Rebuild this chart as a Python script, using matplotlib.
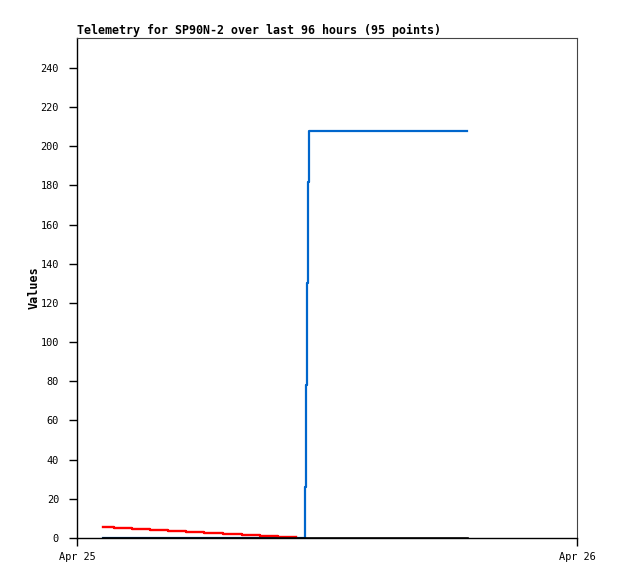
"""Telemetry step chart for SP90N-2 (hours since Apr 25 00:00 on x)."""
import matplotlib
matplotlib.use("Agg")
import matplotlib.pyplot as plt

INK = "#000000"
BLUE = "#0066cc"
RED = "#ff0000"
FONT = "DejaVu Sans Mono"

# series (x = hours after Apr 25 00:00)
red_hours = [1.25, 1.78, 2.64, 3.50, 4.37, 5.23, 6.10, 7.00, 7.92, 8.78, 9.65, 10.50]
red_vals = [5.8, 5.3, 4.8, 4.2, 3.7, 3.2, 2.7, 2.2, 1.7, 1.2, 0.7, 0.7]

blue_hours = [1.25, 10.94, 10.99, 11.04, 11.09, 11.14, 18.72]
blue_vals = [0, 26, 78, 130, 182, 208, 208]

black_hours = [1.25, 18.72]
black_vals = [0, 0]

x_ticks = [0, 24]
x_labels = ["Apr 25", "Apr 26"]
y_ticks = list(range(0, 241, 20))

fig = plt.figure(figsize=(6.18, 5.79), dpi=100)
ax = fig.add_axes([77 / 618, 41 / 579, 500 / 618, 500 / 579])

ax.plot(blue_hours, blue_vals, drawstyle="steps-post", color=BLUE, linewidth=1.6, zorder=2)
ax.plot(red_hours, red_vals, drawstyle="steps-post", color=RED, linewidth=1.7, zorder=3)
ax.plot(black_hours, black_vals, color=INK, linewidth=1.9, zorder=4)

ax.set_xlim(0, 24)
ax.set_ylim(0, 255.3)
ax.set_xticks(x_ticks)
ax.set_xticklabels(x_labels, fontfamily=FONT, fontsize=7.4)
ax.set_yticks(y_ticks)
ax.set_yticklabels([str(v) for v in y_ticks], fontfamily=FONT, fontsize=7.4)
ax.tick_params(axis="y", direction="out", length=6, width=1, pad=7, colors=INK)
ax.tick_params(axis="x", direction="out", length=6, width=1, pad=4, colors=INK)

for s in ["left", "bottom"]:
    ax.spines[s].set_color(INK)
    ax.spines[s].set_linewidth(1)
for s in ["top", "right"]:
    ax.spines[s].set_color("#444444")
    ax.spines[s].set_linewidth(0.8)

ax.set_ylabel("Values", fontfamily=FONT, fontsize=8.5, fontweight="bold", labelpad=0)
ax.set_title("Telemetry for SP90N-2 over last 96 hours (95 points)",
             fontfamily=FONT, fontsize=8.4, fontweight="bold", loc="left", pad=3)

fig.savefig("out.png", dpi=100, facecolor="white")
